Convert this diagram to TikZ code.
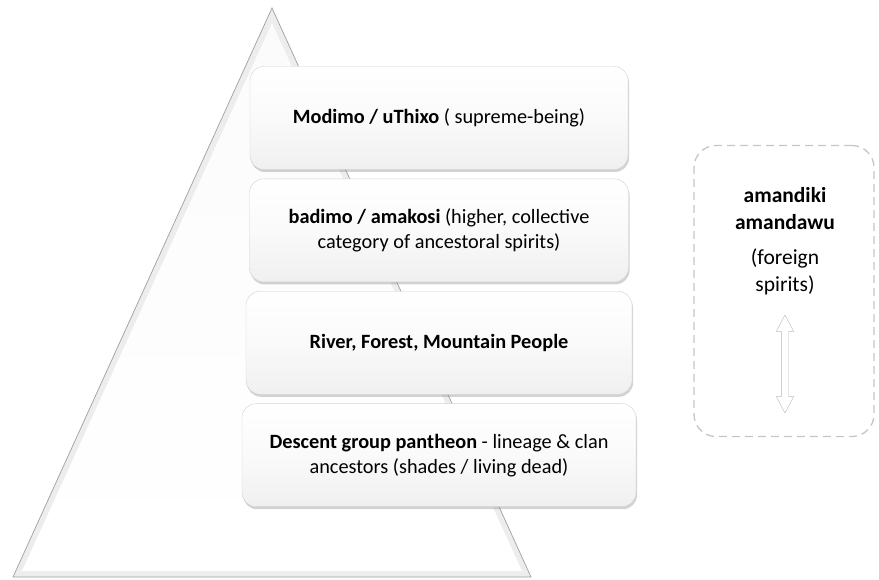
\documentclass[tikz,border=0pt]{standalone}
\usepackage{fontspec}
\setmainfont{Carlito}
\usetikzlibrary{positioning, shadows, shapes.arrows}
\tikzset{
x=1pt, y=1pt,
node distance=9pt, % gap between the tiers
tier/.style={rectangle, rounded corners=14pt, draw=gray!35, thin,
  top color=white, bottom color=gray!12, middle color=gray!4,
  drop shadow={opacity=0.35, shadow xshift=1pt, shadow yshift=-2.5pt},
  align=center, minimum width=#1, minimum height=103pt,
  font=\fontsize{20.3}{25}\selectfont}, % one box of the pyramid
side/.style={align=center, font=\fontsize{21.5}{27}\selectfont}, % text of the dashed box
}

\begin{document}
\begin{tikzpicture}
    \useasboundingbox (0,0) rectangle (879,579);
    % pyramid behind the tiers
    \coordinate (apex) at (272,571);
    \coordinate (bl) at (13,2);
    \coordinate (br) at (531,2);
    \fill[gray!14, draw=gray!75, line width=0.7pt] (apex) -- (bl) -- (br) -- cycle;
    \shade[top color=gray!3, bottom color=white] (272,556) -- (22,8) -- (522,8) -- cycle;

    % the four tiers
    \node[tier=378pt] (modimo) at (439,461) {\textbf{Modimo / uThixo} ( supreme-being)};
    \node[tier=379pt, below=of modimo] (badimo) {\textbf{badimo / amakosi} (higher, collective\\category of ancestoral spirits)};
    \node[tier=386pt, below=of badimo] (people) {\textbf{River, Forest, Mountain People}};
    \node[tier=394pt, below=of people] (descent) {\textbf{Descent group pantheon} - lineage \& clan\\ancestors (shades / living dead)};

    % foreign spirits
    \node[draw=gray!45, dashed, dash pattern=on 8pt off 5pt, line width=1.3pt, rounded corners=22pt,
      minimum width=180pt, minimum height=291pt] (foreign) at (784,288) {};
    \node[side, font=\fontsize{21.5}{27}\selectfont\bfseries] (amandiki) at (785,370) {amandiki\\amandawu};
    \node[side, below=12pt of amandiki] (spirits) {(foreign\\spirits)};
    \node[double arrow, draw=gray!55, fill=white, rotate=90, inner sep=3.5pt,
      double arrow head extend=5pt, double arrow tip angle=56, minimum height=98pt] (link) at (785,215) {};
\end{tikzpicture}
\end{document}
